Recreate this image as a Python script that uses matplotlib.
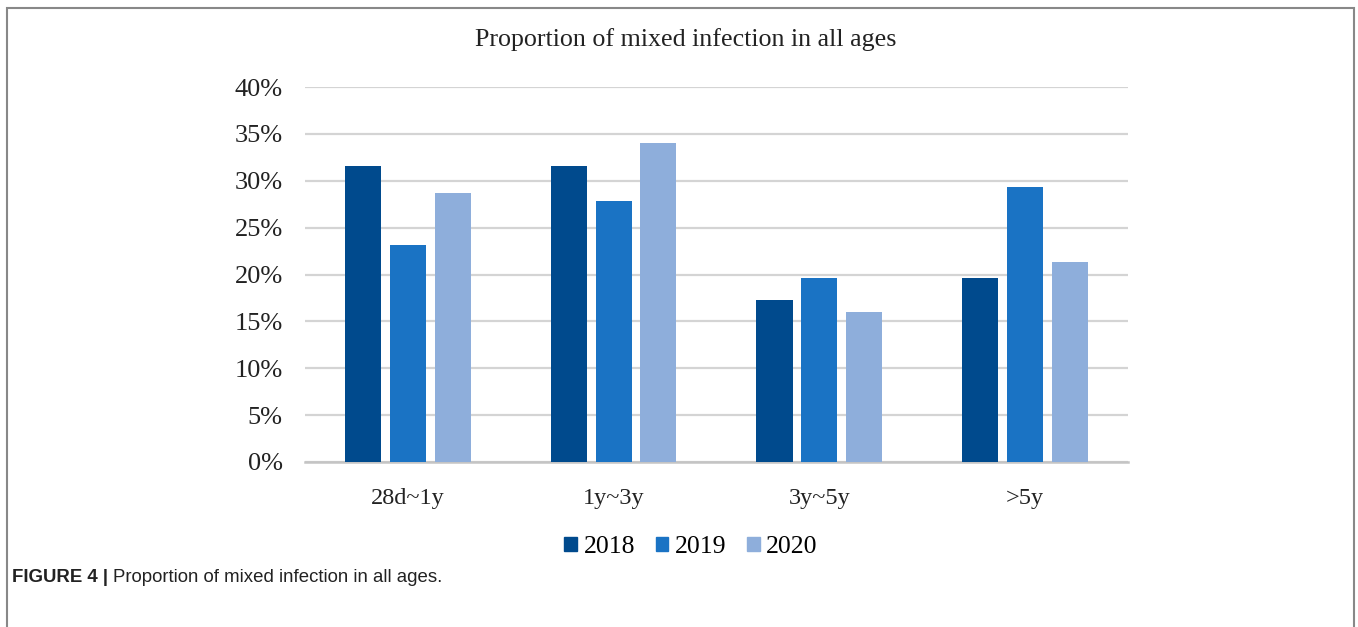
import numpy as np
import matplotlib.pyplot as plt
from matplotlib.patches import Patch, Rectangle

# 各年龄段混合感染比例 (%)
ages = ['28d~1y', '1y~3y', '3y~5y', '>5y']
years = ['2018', '2019', '2020']
p2018 = [31.6, 31.6, 17.3, 19.6]
p2019 = [23.1, 27.8, 19.6, 29.3]
p2020 = [28.7, 34.0, 16.0, 21.3]
yticks = [0, 5, 10, 15, 20, 25, 30, 35, 40]

colors = ['#004A8D', '#1A73C4', '#8EAEDB']
serif = 'Liberation Serif'
W, H = 1358, 627

fig = plt.figure(figsize=(W / 100, H / 100), dpi=100)
ax = fig.add_axes([0.2246, 0.2632, 0.6060, 0.5980])

x = np.arange(len(ages))
w = 0.175
step = 0.218
for i, vals in enumerate([p2018, p2019, p2020]):
    ax.bar(x + (i - 1) * step, vals, width=w, color=colors[i], zorder=3)

ax.set_xlim(-0.5, len(ages) - 0.5)
ax.set_ylim(0, 40)
ax.set_yticks(yticks)
ax.set_yticklabels([f'{v}%' for v in yticks], fontfamily=serif, fontsize=19, color='#222222')
ax.set_xticks(x)
ax.set_xticklabels(ages, fontfamily=serif, fontsize=17.5, color='#222222')
ax.tick_params(axis='y', length=0, pad=16)
ax.tick_params(axis='x', length=0, pad=19)
ax.grid(axis='y', color='#D4D4D4', linewidth=1.6, zorder=0)
for s in ['top', 'right', 'left']:
    ax.spines[s].set_visible(False)
ax.spines['bottom'].set_color('#C4C4C4')
ax.spines['bottom'].set_linewidth(1.8)

fig.text(686 / W, 1 - 40 / H, 'Proportion of mixed infection in all ages',
         ha='center', va='center', fontfamily=serif, fontsize=18.7, color='#222222')

handles = [Patch(facecolor=c, edgecolor=c) for c in colors]
fig.legend(handles, years, loc='center', bbox_to_anchor=(691 / W, 1 - 547 / H),
           ncol=3, frameon=False, handlelength=0.5, handleheight=0.5,
           handletextpad=0.25, columnspacing=0.8,
           prop={'family': serif, 'size': 18.5})

# 外框与图注
fig.add_artist(Rectangle((7 / W, -0.1), 1347 / W, 1.1 - 8 / H,
                         transform=fig.transFigure, fill=False,
                         edgecolor='#888888', linewidth=1.5, clip_on=False))
cap_y = 1 - 578 / H
t1 = fig.text(12 / W, cap_y, 'FIGURE 4 |', fontfamily='Liberation Sans',
              fontweight='bold', fontsize=13.4, va='center', color='#222222')
r = fig.canvas.get_renderer()
x1 = t1.get_window_extent(r).x1 / W
fig.text(x1 + 5 / W, cap_y, 'Proportion of mixed infection in all ages.',
         fontfamily='Liberation Sans', fontsize=13.4, va='center', color='#222222')

fig.savefig('out.png', dpi=100)
